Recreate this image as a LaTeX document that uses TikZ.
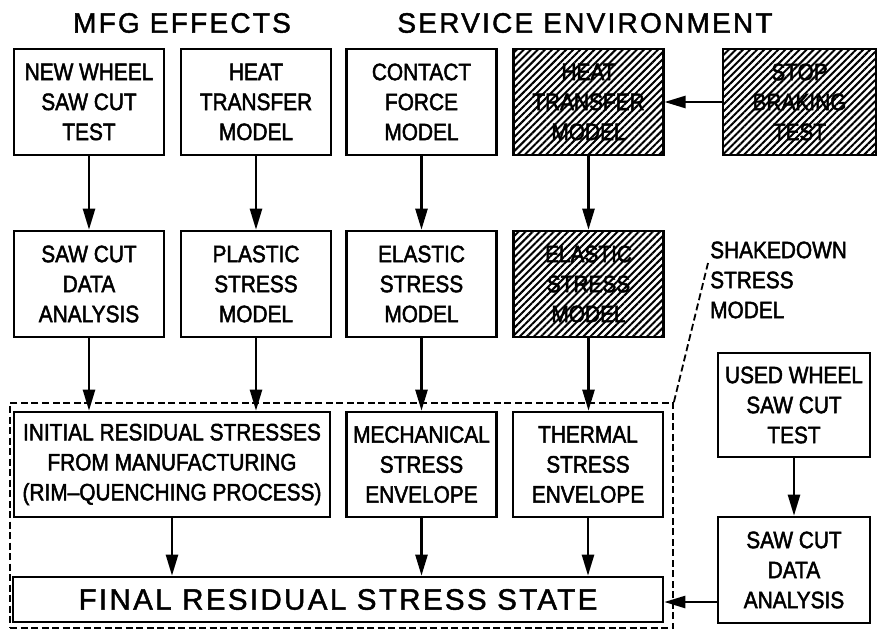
\documentclass[tikz,border=0pt]{standalone}
\usepackage{fontspec}
\setmainfont[FakeStretch=0.88,FakeBold=2]{Liberation Sans}
\newfontfamily\headfont[LetterSpace=8,FakeBold=1.5]{Liberation Sans}
\usetikzlibrary{arrows.meta,patterns.meta}

\newcommand{\boxfont}{\fontsize{23.7}{30}\selectfont}
\newcommand{\headsize}{\headfont\fontsize{28}{30}\selectfont}
\newcommand{\finalsize}{\headfont\fontsize{29.5}{30}\selectfont}

\tikzset{
  stage/.style={draw, line width=2.6pt, minimum width=150pt, minimum height=106pt,
    inner sep=0pt, align=center, font=\boxfont},
  hatched/.style={stage, pattern={Lines[angle=45,distance=5pt,line width=2pt]}},
  arr/.style={line width=2.4pt, -{Triangle[length=21pt,width=12pt]}},
  frame/.style={draw, line width=1.8pt, dash pattern=on 7pt off 3.5pt, inner sep=0pt},
  leader/.style={line width=1.8pt, dash pattern=on 7pt off 3.5pt}
}

\begin{document}
\begin{tikzpicture}[x=1pt, y=-1pt]
    \useasboundingbox (0,0) rectangle (879,630);
    % headings
    \node (mfg) at (182,23) {\headsize MFG EFFECTS};
    \node (service) at (585,23) {\headsize SERVICE ENVIRONMENT};

    % top row
    \node[stage] (nwtest) at (89,102) {NEW WHEEL\\SAW CUT\\TEST};
    \node[stage] (htmodel) at (256,102) {HEAT\\TRANSFER\\MODEL};
    \node[stage] (cfmodel) at (421.5,102) {CONTACT\\FORCE\\MODEL};
    \node[hatched] (htservice) at (588.5,102) {HEAT\\TRANSFER\\MODEL};
    \node[hatched, minimum width=153pt] (sbtest) at (799.5,102) {STOP\\BRAKING\\TEST};

    % second row
    \node[stage] (scanalysis) at (89,284) {SAW CUT\\DATA\\ANALYSIS};
    \node[stage] (psmodel) at (256,284) {PLASTIC\\STRESS\\MODEL};
    \node[stage] (esmodel) at (421.5,284) {ELASTIC\\STRESS\\MODEL};
    \node[hatched] (esservice) at (588.5,284) {ELASTIC\\STRESS\\MODEL};
    \node[anchor=west, align=left, inner sep=0pt, font=\boxfont] (shakedown) at (710,280)
      {SHAKEDOWN\\STRESS\\MODEL};

    % shakedown frame
    \node[frame, minimum width=663pt, minimum height=225pt] (envelope) at (341.5,515.5) {};

    % third row
    \node[stage, minimum width=316pt, minimum height=105pt] (initres) at (172,464.5)
      {INITIAL RESIDUAL STRESSES\\FROM MANUFACTURING\\(RIM--QUENCHING PROCESS)};
    \node[stage, minimum height=105pt] (mechenv) at (421.5,464.5) {MECHANICAL\\STRESS\\ENVELOPE};
    \node[stage, minimum height=105pt] (thermenv) at (588,464.5) {THERMAL\\STRESS\\ENVELOPE};

    % final state
    \node[stage, minimum width=650pt, minimum height=45pt, font=\finalsize] (final) at (338,599.5)
      {FINAL RESIDUAL STRESS STATE};

    % used wheel column
    \node[stage, minimum width=152pt, minimum height=104pt] (uwtest) at (794,405) {USED WHEEL\\SAW CUT\\TEST};
    \node[stage, minimum width=152pt] (uwanalysis) at (794,570) {SAW CUT\\DATA\\ANALYSIS};

    % connectors
    \draw[arr] (nwtest) -- (scanalysis);
    \draw[arr] (htmodel) -- (psmodel);
    \draw[arr] (cfmodel) -- (esmodel);
    \draw[arr] (htservice) -- (esservice);
    \draw[arr] (sbtest) -- (htservice);
    \draw[arr] (scanalysis) -- (scanalysis |- initres.north);
    \draw[arr] (psmodel) -- (psmodel |- initres.north);
    \draw[arr] (esmodel) -- (mechenv);
    \draw[arr] (esservice) -- (esservice |- thermenv.north);
    \draw[arr] (initres) -- (initres |- final.north);
    \draw[arr] (mechenv) -- (mechenv |- final.north);
    \draw[arr] (thermenv) -- (thermenv |- final.north);
    \draw[arr] (uwtest) -- (uwanalysis);
    \draw[arr] (uwanalysis.west |- 0,602) -- (final.east |- 0,602);
    \coordinate (leadtop) at ([xshift=-2pt,yshift=17pt]shakedown.west);
    \draw[leader] (envelope.north east) -- (leadtop);
\end{tikzpicture}
\end{document}
